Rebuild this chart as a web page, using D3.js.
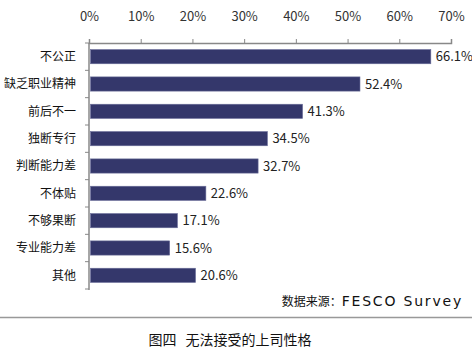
<!DOCTYPE html>
<html><head><meta charset="utf-8">
<script src="https://cdn.jsdelivr.net/npm/d3@7/dist/d3.min.js"></script>
<style>body{margin:0;background:#fff;}svg{display:block;}</style>
</head><body>
<svg id="c" width="472" height="357"></svg>
<script>
const categories = ["不公正","缺乏职业精神","前后不一","独断专行","判断能力差","不体贴","不够果断","专业能力差","其他"];
const values = [66.1, 52.4, 41.3, 34.5, 32.7, 22.6, 17.1, 15.6, 20.6];
const tickValues = [0,10,20,30,40,50,60,70];
const sourceCJK = "数据来源：";
const sourceEN = "FESCO Survey";
const captionParts = ["图四", "无法接受的上司性格"];

(function(){
const svg = d3.select("#c");
const font = "'Noto Sans CJK SC','Noto Sans',sans-serif";
const latin = "'DejaVu Sans',sans-serif";
const mLeft = 89, mRight = 451, mTop = 43, mBottom = 289;
const x = d3.scaleLinear().domain([0,70]).range([mLeft,mRight]);
const y = d3.scaleBand().domain(categories).range([mTop,mBottom]).paddingInner(0.48).paddingOuter(0.24);

const xa = svg.append("g").attr("transform",`translate(0,${mTop})`)
  .call(d3.axisTop(x).tickValues(tickValues).tickFormat(d=>d+"%").tickSize(4).tickPadding(18));
xa.select(".domain").attr("stroke","#888").attr("stroke-width",1.5);
xa.selectAll(".tick line").attr("stroke","#888");
xa.selectAll("text").attr("font-family",font).attr("font-size",13).attr("fill","#333");

const step = (mBottom-mTop)/categories.length;
svg.append("line").attr("x1",mLeft).attr("x2",mLeft).attr("y1",mTop).attr("y2",mBottom+1)
  .attr("stroke","#888").attr("stroke-width",1.5);
d3.range(categories.length+1).forEach(i=>{
  svg.append("line").attr("x1",mLeft-4).attr("x2",mLeft).attr("y1",mTop+i*step).attr("y2",mTop+i*step)
    .attr("stroke","#888");
});

svg.selectAll("rect.bar").data(values).join("rect").attr("class","bar")
  .attr("x",x(0)+1.5).attr("y",(d,i)=>y(categories[i]))
  .attr("width",d=>x(d)-x(0)-1.5).attr("height",y.bandwidth())
  .attr("fill","#34376b").attr("stroke","#6a6d99").attr("stroke-width",0.6);

svg.selectAll("text.val").data(values).join("text").attr("class","val")
  .attr("x",d=>x(d)+5).attr("y",(d,i)=>y(categories[i])+y.bandwidth()/2)
  .attr("dy","0.36em").attr("font-family",font).attr("font-size",13).attr("fill","#222")
  .text(d=>d.toFixed(1)+"%");

svg.selectAll("text.cat").data(categories).join("text").attr("class","cat")
  .attr("x",76).attr("y",d=>y(d)+y.bandwidth()/2).attr("dy","0.36em")
  .attr("text-anchor","end").attr("font-family",font).attr("font-size",12).attr("fill","#111")
  .text(d=>d);

const src = svg.append("text").attr("x",463).attr("y",306).attr("text-anchor","end").attr("fill","#111");
src.append("tspan").attr("font-family",font).attr("font-size",12).text(sourceCJK);
src.append("tspan").attr("font-family",latin).attr("font-size",14).attr("letter-spacing",1.8).text(sourceEN);

svg.append("line").attr("x1",0).attr("x2",472).attr("y1",317.5).attr("y2",317.5)
  .attr("stroke","#999").attr("stroke-width",1.5);

const cap = svg.append("text").attr("x",230).attr("y",345).attr("text-anchor","middle")
  .attr("font-family",font).attr("font-size",14).attr("fill","#111");
cap.append("tspan").text(captionParts[0]);
cap.append("tspan").attr("dx",9).text(captionParts[1]);
})();
</script>
</body></html>
